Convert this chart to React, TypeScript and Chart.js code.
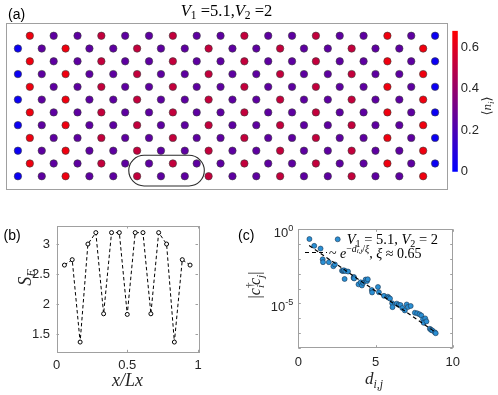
import React, { useEffect, useRef } from 'react';
import { Chart, registerables } from 'chart.js';
Chart.register(...registerables);

const SANS = "'Liberation Sans', Arial, Helvetica, sans-serif";
const MATH = "'Liberation Serif', 'DejaVu Serif', serif";
const SYM = "'DejaVu Sans', sans-serif";
const TXT = '#262626';
const AXIS = '#a0a0a0';

// ---------- (a) lattice densities <n_i> ----------
// one row pattern per row type (rows alternate, shifted rows offset by half a site)
const NI_ROW_SHIFTED = [0.64, 0.25, 0.25, 0.52, 0.25, 0.25, 0.52, 0.25, 0.25, 0.52, 0.25, 0.25, 0.52, 0.25, 0.25, 0.64, 0.25, 0.03];
const NI_ROW_PLAIN = [0.03, 0.25, 0.64, 0.25, 0.25, 0.52, 0.25, 0.25, 0.52, 0.25, 0.25, 0.52, 0.25, 0.25, 0.52, 0.25, 0.25, 0.64];
const N_ROWS = 12;
const CBAR_MAX = 0.68;
const CBAR_TICKS = [0, 0.2, 0.4, 0.6];
const STADIUM = { x0: 4.65, x1: 7.82, y0: -0.76, y1: 1.64 };

// ---------- (b) entanglement entropy ----------
const SE_X = [0.056, 0.111, 0.167, 0.222, 0.278, 0.333, 0.389, 0.444, 0.5, 0.556, 0.611, 0.667, 0.722, 0.778, 0.833, 0.889, 0.944];
const SE_Y = [2.65, 2.74, 1.37, 3.0, 3.19, 1.84, 3.19, 3.19, 1.83, 3.19, 3.19, 1.84, 3.19, 3.0, 1.37, 2.74, 2.65];
const SE_XTICKS = [0, 0.5, 1];
const SE_YTICKS = [1.5, 2, 2.5, 3];

// ---------- (c) correlations ----------
const CORR_D = [0.72, 1.03, 1.44, 1.58, 1.6, 1.98, 2.27, 2.37, 2.83, 2.9, 2.95, 3.05, 3.22, 3.0, 3.58, 3.6, 3.62, 3.9, 4.04, 4.12, 4.2, 4.36, 4.45, 4.5, 4.76, 4.78, 5.16, 5.22, 5.55, 5.8, 5.85, 5.94, 6.08, 6.1, 6.38, 6.5, 6.62, 6.74, 6.9, 7.02, 7.1, 7.28, 7.55, 7.7, 7.85, 7.97, 8.08, 8.12, 8.22, 8.3, 8.52, 8.6, 8.68, 8.84, 8.9];
const CORR_V = [2.2e-1, 7.6e-2, 5.0e-2, 9.3e-3, 6.0e-3, 6.0e-3, 3.2e-3, 4.2e-3, 1.6e-3, 1.5e-3, 1.7e-3, 1.5e-3, 1.4e-3, 4.4e-4, 5.2e-4, 6.0e-4, 4.8e-4, 1.9e-4, 2.6e-4, 1.6e-4, 2.4e-4, 4.0e-4, 3.2e-4, 4.2e-4, 7.9e-5, 5.4e-5, 1.26e-4, 5.6e-5, 3.2e-5, 2.8e-5, 2.4e-5, 2.1e-5, 1.0e-5, 5.5e-6, 9.5e-6, 7.9e-6, 7.6e-6, 4.8e-6, 3.3e-6, 8.3e-6, 5.6e-6, 6.6e-6, 2.3e-6, 2.1e-6, 1.8e-6, 1.5e-6, 8.3e-7, 4.8e-7, 9.5e-7, 6.0e-7, 1.9e-7, 1.6e-7, 1.45e-7, 1.1e-7, 9.5e-8];
const FIT_D = [0.7, 8.9];
const FIT_V = [8.0e-2, 1.1e-7];
const CORR_XTICKS = [0, 5, 10];
const CORR_YTICKS = [1e-8, 1e-7, 1e-6, 1e-5, 1e-4, 1e-3, 1e-2, 1e-1, 1e0];
const CORR_YLABELS = [
  { v: 1e0, exp: '0' },
  { v: 1e-5, exp: '-5' },
];

type Seg = { t: string; it?: boolean; s?: number; dy?: number; keep?: boolean; fam?: string };

function drawRich(ctx: CanvasRenderingContext2D, segs: Seg[], x: number, y: number, size: number, fam: string, align: 'left' | 'center' | 'right', rot: number, color: string) {
  ctx.save();
  ctx.translate(x, y);
  ctx.rotate(rot);
  const fonts = segs.map((sg) => `${sg.it ? 'italic ' : ''}${(size * (sg.s ?? 1)).toFixed(2)}px ${sg.fam ?? fam}`);
  const widths = segs.map((sg, i) => { ctx.font = fonts[i]; return ctx.measureText(sg.t).width; });
  let total = 0;
  segs.forEach((sg, i) => { if (!sg.keep) total += widths[i]; });
  let cx = align === 'center' ? -total / 2 : align === 'right' ? -total : 0;
  ctx.textBaseline = 'alphabetic';
  ctx.textAlign = 'left';
  ctx.fillStyle = color;
  segs.forEach((sg, i) => {
    ctx.font = fonts[i];
    ctx.fillText(sg.t, cx, (sg.dy ?? 0) * size);
    if (!sg.keep) cx += widths[i];
  });
  ctx.restore();
}

const cmap = (v: number) => {
  const t = Math.min(1, Math.max(0, v / CBAR_MAX));
  return `rgb(${Math.round(255 * t)},0,${Math.round(255 * (1 - t))})`;
};

function frameTicks(xTicks: number[], yTicks: number[], len = 2.5) {
  return {
    id: 'frameTicks',
    beforeDatasetsDraw(chart: any) {
      const { ctx, chartArea: a, scales } = chart;
      ctx.save();
      ctx.strokeStyle = AXIS;
      ctx.lineWidth = 1;
      ctx.beginPath();
      for (const v of xTicks) {
        const p = Math.round(scales.x.getPixelForValue(v)) + 0.5;
        ctx.moveTo(p, a.bottom); ctx.lineTo(p, a.bottom - len);
        ctx.moveTo(p, a.top); ctx.lineTo(p, a.top + len);
      }
      for (const v of yTicks) {
        const p = Math.round(scales.y.getPixelForValue(v)) + 0.5;
        ctx.moveTo(a.left, p); ctx.lineTo(a.left + len, p);
        ctx.moveTo(a.right, p); ctx.lineTo(a.right - len, p);
      }
      ctx.stroke();
      ctx.strokeRect(Math.round(a.left) + 0.5, Math.round(a.top) + 0.5, Math.round(a.right - a.left), Math.round(a.bottom - a.top));
      ctx.restore();
    },
  };
}

export default function App() {
  const aRef = useRef<HTMLCanvasElement>(null);
  const cbRef = useRef<HTMLCanvasElement>(null);
  const bRef = useRef<HTMLCanvasElement>(null);
  const cRef = useRef<HTMLCanvasElement>(null);

  useEffect(() => {
    document.body.style.margin = '0';
    const charts: Chart[] = [];

    // ----- (a) -----
    const sites: { x: number; y: number; v: number }[] = [];
    for (let r = 0; r < N_ROWS; r++) {
      const shifted = r % 2 === 1;
      const row = shifted ? NI_ROW_SHIFTED : NI_ROW_PLAIN;
      row.forEach((v, j) => sites.push({ x: j + (shifted ? 0.5 : 0), y: r, v }));
    }
    const panelA = {
      id: 'panelA',
      afterDatasetsDraw(chart: any) {
        const { ctx, chartArea: a, scales: { x, y } } = chart;
        ctx.save();
        ctx.strokeStyle = AXIS;
        ctx.lineWidth = 1;
        ctx.strokeRect(Math.round(a.left) + 0.5, Math.round(a.top) + 0.5, Math.round(a.right - a.left), Math.round(a.bottom - a.top));
        const x0 = x.getPixelForValue(STADIUM.x0), x1 = x.getPixelForValue(STADIUM.x1);
        const yt = y.getPixelForValue(STADIUM.y1), yb = y.getPixelForValue(STADIUM.y0);
        const r = (yb - yt) / 2;
        const cy = (yt + yb) / 2;
        ctx.strokeStyle = '#2b2b2b';
        ctx.lineWidth = 1.1;
        ctx.beginPath();
        ctx.moveTo(x0 + r, yt);
        ctx.lineTo(x1 - r, yt);
        ctx.arc(x1 - r, cy, r, -Math.PI / 2, Math.PI / 2);
        ctx.lineTo(x0 + r, yb);
        ctx.arc(x0 + r, cy, r, Math.PI / 2, Math.PI * 1.5);
        ctx.closePath();
        ctx.stroke();
        drawRich(ctx, [
          { t: 'V', it: true }, { t: '1', s: 0.7, dy: 0.22 }, { t: ' =5.1,' },
          { t: 'V', it: true }, { t: '2', s: 0.7, dy: 0.22 }, { t: ' =2' },
        ], (a.left + a.right) / 2, 15.5, 16.5, MATH, 'center', 0, '#000');
        ctx.font = `14px ${SANS}`;
        ctx.fillStyle = '#000';
        ctx.textAlign = 'left';
        ctx.textBaseline = 'alphabetic';
        ctx.fillText('(a)', 8, 19);
        ctx.restore();
      },
    };
    charts.push(new Chart(aRef.current!, {
      type: 'scatter',
      data: {
        datasets: [{
          data: sites.map((s) => ({ x: s.x, y: s.y })),
          pointBackgroundColor: sites.map((s) => cmap(s.v)),
          pointBorderColor: '#3a3a3a',
          pointBorderWidth: 0.6,
          pointRadius: 3.7,
        }],
      },
      options: {
        animation: false,
        responsive: false,
        layout: { padding: { left: 6, top: 23, right: 51, bottom: 11 } },
        plugins: { legend: { display: false }, tooltip: { enabled: false } },
        scales: {
          x: { type: 'linear', min: -0.5, max: 18, display: false },
          y: { type: 'linear', min: -1, max: 12, display: false },
        },
      },
      plugins: [panelA],
    } as any));

    // ----- colorbar -----
    const cbLabel = {
      id: 'cbLabel',
      afterDraw(chart: any) {
        drawRich(chart.ctx, [
          { t: '⟨', fam: SYM }, { t: 'n', it: true }, { t: 'i', it: true, s: 0.7, dy: 0.22 },
          { t: '⟩', fam: SYM },
        ], 51, 86, 13, MATH, 'center', -Math.PI / 2, TXT);
      },
    };
    charts.push(new Chart(cbRef.current!, {
      type: 'bar',
      data: {
        labels: [''],
        datasets: [{
          data: [[0, CBAR_MAX]],
          barPercentage: 1,
          categoryPercentage: 1,
          borderWidth: 0,
          backgroundColor: (c: any) => {
            const ch = c.chart;
            if (!ch.chartArea) return 'purple';
            const ys = ch.scales.y;
            const g = ch.ctx.createLinearGradient(0, ys.getPixelForValue(0), 0, ys.getPixelForValue(CBAR_MAX));
            g.addColorStop(0, cmap(0));
            g.addColorStop(1, cmap(CBAR_MAX));
            return g;
          },
        }],
      },
      options: {
        animation: false,
        responsive: false,
        layout: { padding: { left: 12.3, top: 10.3, right: 0, bottom: 18.3 } },
        plugins: { legend: { display: false }, tooltip: { enabled: false } },
        scales: {
          x: { display: false },
          y: {
            position: 'right', min: 0, max: CBAR_MAX,
            grid: { display: false, drawTicks: false }, border: { display: false },
            ticks: { font: { family: SANS, size: 13 }, color: TXT, padding: 3, callback: (v: any) => String(v) },
            afterBuildTicks: (s: any) => { s.ticks = CBAR_TICKS.map((v) => ({ value: v })); },
            afterFit: (s: any) => { s.width = 40.2; },
          },
        },
      },
      plugins: [cbLabel],
    } as any));

    // ----- (b) -----
    const labelsB = {
      id: 'labelsB',
      afterDraw(chart: any) {
        const ctx = chart.ctx;
        ctx.save();
        ctx.font = `14px ${SANS}`;
        ctx.fillStyle = '#000';
        ctx.textAlign = 'left';
        ctx.textBaseline = 'alphabetic';
        ctx.fillText('(b)', 3.5, 39.5);
        ctx.restore();
        drawRich(ctx, [{ t: 'S', it: true }, { t: 'E', it: true, s: 0.7, dy: 0.22 }], 31, 77.5, 18, MATH, 'center', -Math.PI / 2, TXT);
        drawRich(ctx, [{ t: 'x/Lx', it: true }], 127.5, 186, 18, MATH, 'center', 0, TXT);
      },
    };
    charts.push(new Chart(bRef.current!, {
      type: 'scatter',
      data: {
        datasets: [{
          data: SE_X.map((x, i) => ({ x, y: SE_Y[i] })),
          showLine: true,
          borderColor: '#000',
          borderWidth: 1,
          borderDash: [3.5, 2.5],
          pointRadius: 2,
          pointBorderWidth: 1,
          pointBorderColor: '#000',
          pointBackgroundColor: '#fff',
        }],
      },
      options: {
        animation: false,
        responsive: false,
        layout: { padding: { left: 0, top: 26, right: 32, bottom: 0 } },
        plugins: { legend: { display: false }, tooltip: { enabled: false } },
        scales: {
          x: {
            type: 'linear', min: 0, max: 1,
            grid: { display: false, drawTicks: false }, border: { display: false },
            ticks: { font: { family: SANS, size: 13 }, color: TXT, padding: 5, maxRotation: 0, autoSkip: false, callback: (v: any) => String(v) },
            afterBuildTicks: (s: any) => { s.ticks = SE_XTICKS.map((v) => ({ value: v })); },
            afterFit: (s: any) => { s.height = 42.7; },
          },
          y: {
            type: 'linear', min: 1.2, max: 3.3,
            grid: { display: false, drawTicks: false }, border: { display: false },
            ticks: { font: { family: SANS, size: 13 }, color: TXT, padding: 6.5, callback: (v: any) => String(v) },
            afterBuildTicks: (s: any) => { s.ticks = SE_YTICKS.map((v) => ({ value: v })); },
            afterFit: (s: any) => { s.width = 56.5; },
          },
        },
      },
      plugins: [frameTicks(SE_XTICKS, SE_YTICKS), labelsB],
    } as any));

    // ----- (c) -----
    const labelsC = {
      id: 'labelsC',
      afterDraw(chart: any) {
        const ctx = chart.ctx;
        const ys = chart.scales.y;
        ctx.save();
        ctx.font = `14px ${SANS}`;
        ctx.fillStyle = '#000';
        ctx.textAlign = 'left';
        ctx.textBaseline = 'alphabetic';
        ctx.fillText('(c)', 8, 39.5);
        ctx.restore();
        for (const l of CORR_YLABELS) {
          const p = ys.getPixelForValue(l.v);
          drawRich(ctx, [{ t: '10' }, { t: l.exp, s: 0.7, dy: -0.45 }], 63.3, p + 7.2, 13, SANS, 'right', 0, TXT);
        }
        drawRich(ctx, [
          { t: '|' }, { t: 'c', it: true }, { t: '†', s: 0.7, dy: -0.42, keep: true }, { t: 'i', it: true, s: 0.7, dy: 0.25 },
          { t: 'c', it: true }, { t: 'j', it: true, s: 0.7, dy: 0.25 }, { t: '|' },
        ], 30, 85, 16, MATH, 'center', -Math.PI / 2, TXT);
        drawRich(ctx, [{ t: 'd', it: true }, { t: 'i,j', it: true, s: 0.7, dy: 0.25 }], 144, 184, 17, MATH, 'center', 0, TXT);
        // legend
        ctx.save();
        ctx.fillStyle = '#2a8fd4';
        ctx.strokeStyle = '#1b3550';
        ctx.lineWidth = 0.6;
        ctx.beginPath();
        ctx.arc(107.7, 39.3, 2.5, 0, Math.PI * 2);
        ctx.fill();
        ctx.stroke();
        ctx.strokeStyle = '#000';
        ctx.lineWidth = 1.2;
        ctx.setLineDash([4, 3]);
        ctx.beginPath();
        ctx.moveTo(75, 52.5);
        ctx.lineTo(97, 52.5);
        ctx.stroke();
        ctx.restore();
        drawRich(ctx, [
          { t: 'V', it: true }, { t: '1', s: 0.7, dy: 0.22 }, { t: ' = 5.1, ' },
          { t: 'V', it: true }, { t: '2', s: 0.7, dy: 0.22 }, { t: ' = 2' },
        ], 116.7, 43.5, 14.5, MATH, 'left', 0, '#000');
        drawRich(ctx, [
          { t: '~ ' }, { t: 'e', it: true }, { t: '−', s: 0.7, dy: -0.42 }, { t: 'd', it: true, s: 0.7, dy: -0.42 },
          { t: 'i,j', it: true, s: 0.5, dy: -0.3 }, { t: '/', s: 0.7, dy: -0.42 }, { t: 'ξ', it: true, s: 0.7, dy: -0.42 },
          { t: ', ' }, { t: 'ξ', it: true }, { t: ' ≈ 0.65' },
        ], 99, 57.5, 14, MATH, 'left', 0, '#000');
      },
    };
    charts.push(new Chart(cRef.current!, {
      type: 'scatter',
      data: {
        datasets: [
          {
            data: FIT_D.map((x, i) => ({ x, y: FIT_V[i] })),
            showLine: true,
            borderColor: '#000',
            borderWidth: 1.2,
            borderDash: [4, 3],
            pointRadius: 0,
          },
          {
            data: CORR_D.map((x, i) => ({ x, y: CORR_V[i] })),
            pointRadius: 2.5,
            pointBackgroundColor: '#2a8fd4',
            pointBorderColor: '#1b3550',
            pointBorderWidth: 0.6,
          },
        ],
      },
      options: {
        animation: false,
        responsive: false,
        layout: { padding: { left: 0, top: 29.3, right: 45.3, bottom: 0 } },
        plugins: { legend: { display: false }, tooltip: { enabled: false } },
        scales: {
          x: {
            type: 'linear', min: 0, max: 10,
            grid: { display: false, drawTicks: false }, border: { display: false },
            ticks: { font: { family: SANS, size: 13 }, color: TXT, padding: 7, maxRotation: 0, autoSkip: false, callback: (v: any) => String(v) },
            afterBuildTicks: (s: any) => { s.ticks = CORR_XTICKS.map((v) => ({ value: v })); },
            afterFit: (s: any) => { s.height = 47.3; },
          },
          y: {
            type: 'logarithmic', min: 1e-8, max: 1,
            grid: { display: false, drawTicks: false }, border: { display: false },
            ticks: { display: false },
            afterBuildTicks: (s: any) => { s.ticks = CORR_YTICKS.map((v) => ({ value: v })); },
            afterFit: (s: any) => { s.width = 68.3; },
          },
        },
      },
      plugins: [frameTicks(CORR_XTICKS, CORR_YTICKS), labelsC],
    } as any));

    return () => charts.forEach((c) => c.destroy());
  }, []);

  const abs = (l: number, t: number, w: number, h: number): React.CSSProperties => ({ position: 'absolute', left: l, top: t, width: w, height: h });
  return (
    <div style={{ position: 'fixed', left: 0, top: 0, width: 498, height: 395, background: '#fff', overflow: 'hidden' }}>
      <canvas ref={aRef} width={498} height={200} style={abs(0, 0, 498, 200)} />
      <canvas ref={cbRef} width={58} height={170} style={abs(440, 20, 58, 170)} />
      <canvas ref={bRef} width={230} height={195} style={abs(0, 200, 230, 195)} />
      <canvas ref={cRef} width={268} height={195} style={abs(230, 200, 268, 195)} />
    </div>
  );
}
